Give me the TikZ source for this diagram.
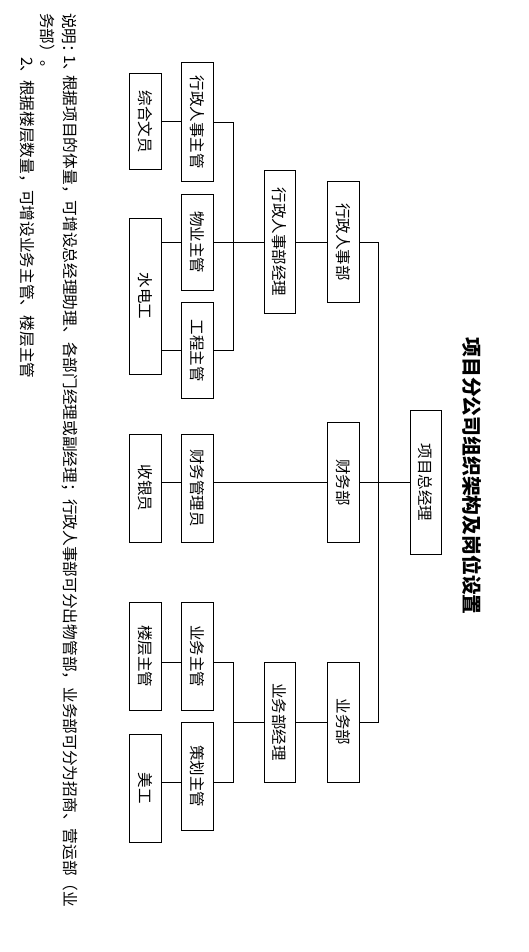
\documentclass[tikz,border=0pt]{standalone}
\usepackage{fontspec}
\newfontfamily\cjk{Noto Sans CJK SC}
\newcommand{\myrot}[1]{\rotatebox{-90}{#1}}
\begin{document}
\begin{tikzpicture}[x=1pt,y=-1pt,
  bx/.style={draw, line width=1pt, inner sep=0pt, minimum width=32pt,
    font=\cjk\fontsize{15.5}{16}\selectfont},
  ln/.style={line width=1pt},
  note/.style={rotate=-90, anchor=west, inner sep=0pt,
    font=\cjk\fontsize{15.7}{16}\selectfont},
  ttl/.style={rotate=-90, inner sep=0pt,
    font=\cjk\bfseries\fontsize{19.8}{20}\selectfont}]
\useasboundingbox (0,0) rectangle (529,952);
% title
\node[ttl] (title) at (472,476) {项目分公司组织架构及岗位设置};
% notes
\node[note] (n1a) at (69.5,13) {说明：};
\node[note] (n1b) at (69.5,55) {1、};
\node[note] (n1c) at (69.5,75) {根据项目的体量，可增设总经理助理、各部门经理或副经理；行政人事部可分出物管部，业务部可分为招商、营运部（业};
\node[note] (n2) at (47.5,13) {务部）。};
\node[note] (n3a) at (27,57) {2、};
\node[note] (n3b) at (27,80) {根据楼层数量，可增设业务主管、楼层主管};
% boxes
\node[bx, minimum height=96pt] (zhwy) at (145,122) {\myrot{综合文员}};
\node[bx, minimum height=119pt] (xzzg) at (197,122.5) {\myrot{行政人事主管}};
\node[bx, minimum height=96pt] (wyzg) at (197,242) {\myrot{物业主管}};
\node[bx, minimum height=156pt] (sdg) at (145,296) {\myrot{水电工}};
\node[bx, minimum height=96pt] (gczg) at (197,350.5) {\myrot{工程主管}};
\node[bx, minimum width=31pt, minimum height=143pt] (xzjl) at (279.5,242) {\myrot{行政人事部经理}};
\node[bx, minimum height=120pt] (xzb) at (343,242) {\myrot{行政人事部}};
\node[bx, minimum height=108pt] (syy) at (145,488) {\myrot{收银员}};
\node[bx, minimum height=108pt] (cwgl) at (197,488) {\myrot{财务管理员}};
\node[bx, minimum height=120pt] (cwb) at (343,482.5) {\myrot{财务部}};
\node[bx, minimum width=31pt, minimum height=144pt] (zjl) at (425.5,482.5) {\myrot{项目总经理}};
\node[bx, minimum height=108pt] (lczg) at (145,656) {\myrot{楼层主管}};
\node[bx, minimum height=108pt] (ywzg) at (197,656) {\myrot{业务主管}};
\node[bx, minimum height=108pt] (mg) at (145,788) {\myrot{美工}};
\node[bx, minimum height=108pt] (chzg) at (197,776) {\myrot{策划主管}};
\node[bx, minimum width=31pt, minimum height=120pt] (ywjl) at (279.5,722) {\myrot{业务部经理}};
\node[bx, minimum height=120pt] (ywb) at (343,722) {\myrot{业务部}};
% bus coordinates
\coordinate (b1b) at (233,350.5);
\coordinate (mb) at (378,722);
\coordinate (b2t) at (233,662);
\coordinate (b2b) at (233,782);
% admin group
\draw[ln] (zhwy.east) -- (zhwy.east -| xzzg.west);
\draw[ln] (xzzg.east) -| (b1b) -- (gczg.east);
\draw[ln] (wyzg.east) -- (xzjl.west);
\draw[ln] (sdg.east |- wyzg.west) -- (wyzg.west);
\draw[ln] (sdg.east |- gczg.west) -- (gczg.west);
\draw[ln] (xzjl.east) -- (xzb.west);
\draw[ln] (xzb.east) -| (mb) -- (ywb.east);
% finance group
\draw[ln] (syy.east |- cwb.west) -- (cwgl.west |- cwb.west);
\draw[ln] (cwgl.east |- cwb.west) -- (cwb.west);
\draw[ln] (cwb.east) -- (zjl.west);
% business group
\draw[ln] (b2t -| lczg.east) -- (b2t -| ywzg.west);
\draw[ln] (b2t -| ywzg.east) -- (b2t) -- (b2b) -- (b2b -| chzg.east);
\draw[ln] (b2b -| chzg.west) -- (b2b -| mg.east);
\draw[ln] (b2t |- ywjl.west) -- (ywjl.west);
\draw[ln] (ywjl.east) -- (ywb.west);
\end{tikzpicture}
\end{document}
